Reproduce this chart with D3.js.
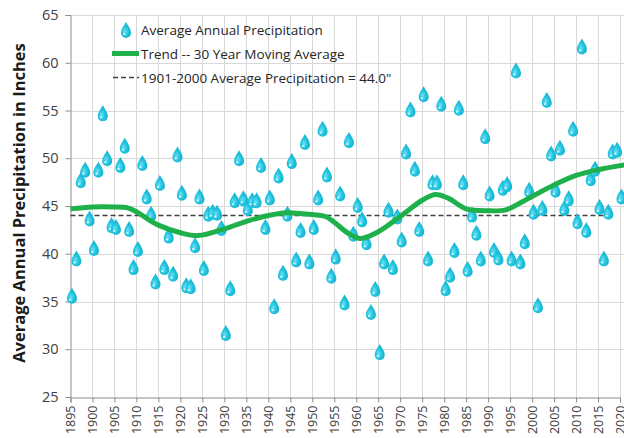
<!DOCTYPE html>
<html>
<head>
<meta charset="utf-8">
<script src="https://cdn.jsdelivr.net/npm/d3@7"></script>
<style>
  html, body { margin: 0; padding: 0; background: #fff; }
  svg { display: block; font-family: "Open Sans", sans-serif; }
</style>
</head>
<body>
<svg id="chart" width="624" height="438"></svg>
<script>
// annual precipitation, 1895 - 2020 (inches)
const firstYear = 1895;
const precip = [
  35.6, 39.5, 47.7, 48.8, 43.7, 40.6, 48.8, 54.7, 50.0, 43.0,
  42.8, 49.3, 51.3, 42.6, 38.6, 40.5, 49.5, 46.0, 44.2, 37.1,
  47.4, 38.6, 41.9, 37.9, 50.4, 46.4, 36.7, 36.6, 40.9, 46.0,
  38.5, 44.2, 44.4, 44.3, 42.7, 31.7, 36.4, 45.6, 50.0, 45.8,
  44.8, 45.6, 45.6, 49.3, 42.8, 45.9, 34.5, 48.2, 38.0, 44.2,
  49.7, 39.4, 42.5, 51.7, 39.2, 42.8, 45.9, 53.1, 48.3, 37.7,
  39.7, 46.3, 34.9, 51.9, 42.1, 45.1, 43.6, 41.2, 33.9, 36.3,
  29.7, 39.2, 44.6, 38.6, 43.9, 41.5, 50.7, 55.1, 48.9, 42.6,
  56.7, 39.5, 47.5, 47.5, 55.7, 36.4, 37.8, 40.4, 55.3, 47.5,
  38.4, 44.1, 42.2, 39.5, 52.3, 46.3, 40.4, 39.6, 46.9, 47.3,
  39.5, 59.2, 39.2, 41.3, 46.7, 44.4, 34.6, 44.8, 56.1, 50.5,
  46.7, 51.1, 44.8, 45.8, 53.1, 43.4, 61.7, 42.5, 47.9, 48.9,
  44.9, 39.5, 44.4, 50.7, 50.9, 46.0
];
const years = precip.map((v, i) => firstYear + i);

// 30 year moving average trend
const trendYears = [1895, 1900, 1905, 1908, 1910, 1913, 1915, 1920, 1924, 1930,
  1935, 1940, 1944, 1950, 1953, 1955, 1958, 1961, 1965, 1970, 1975, 1978, 1981,
  1985, 1990, 1994, 1998, 2000, 2005, 2010, 2015, 2021];
const trendValues = [44.7, 44.9, 44.9, 44.8, 44.4, 43.5, 43.0, 42.2, 41.9, 42.6,
  43.4, 44.0, 44.3, 44.1, 43.9, 43.3, 42.2, 41.6, 42.3, 43.9, 45.6, 46.2, 45.8,
  44.7, 44.5, 44.6, 45.5, 46.0, 47.2, 48.2, 48.8, 49.3];

// 1901-2000 average
const avgYears = [1895, 2017];
const avgValue = 44.0;

const yTicks = [25, 30, 35, 40, 45, 50, 55, 60, 65];
const xTicks = d3.range(1895, 2021, 5);

const legendLabels = [
  "Average Annual Precipitation",
  "Trend -- 30 Year Moving Average",
  "1901-2000 Average Precipitation = 44.0\""
];

const svg = d3.select("#chart");

const x = d3.scaleLinear().domain([1895, 2020]).range([70.5, 620]);
const y = d3.scaleLinear().domain([25, 65]).range([397, 15]);

const dropColor = "#1fc3de";
const greenColor = "#1eb04a";
const gridColor = "#d9d9d9";

// drop gradient
const defs = svg.append("defs");
const grad = defs.append("radialGradient")
  .attr("id", "dropGrad")
  .attr("cx", "40%").attr("cy", "60%").attr("r", "70%");
grad.append("stop").attr("offset", "0%").attr("stop-color", "#6fe0f2");
grad.append("stop").attr("offset", "45%").attr("stop-color", dropColor);
grad.append("stop").attr("offset", "100%").attr("stop-color", "#14a9c8");

const dropPath = "M0,-8 C1.2,-5.2 5,-1.5 5,3 A5,5 0 0 1 -5,3 C-5,-1.5 -1.2,-5.2 0,-8Z";

function drawDrop(g) {
  g.append("path").attr("d", dropPath).attr("fill", "url(#dropGrad)");
  g.append("ellipse")
    .attr("cx", -1.8).attr("cy", 4)
    .attr("rx", 1.3).attr("ry", 1.1)
    .attr("fill", "#e6fbff").attr("opacity", 0.85);
}

// gridlines
svg.append("g")
  .selectAll("line")
  .data(yTicks.slice(1))
  .join("line")
  .attr("x1", 70.5).attr("x2", 624)
  .attr("y1", d => Math.round(y(d)) + 0.5)
  .attr("y2", d => Math.round(y(d)) + 0.5)
  .attr("stroke", gridColor)
  .attr("stroke-width", 1);

svg.append("g")
  .selectAll("line")
  .data(xTicks.slice(1))
  .join("line")
  .attr("x1", d => Math.round(x(d)) + 0.5)
  .attr("x2", d => Math.round(x(d)) + 0.5)
  .attr("y1", y(65)).attr("y2", y(25))
  .attr("stroke", gridColor)
  .attr("stroke-width", 1);

// axes
const yAxis = d3.axisLeft(y).tickValues(yTicks).tickSize(5).tickPadding(7);
svg.append("g")
  .attr("class", "y-axis")
  .attr("transform", "translate(70.5,0)")
  .call(yAxis);

const xAxis = d3.axisBottom(x).tickValues(xTicks).tickSize(5).tickFormat(d3.format("d"));
svg.append("g")
  .attr("class", "x-axis")
  .attr("transform", `translate(0,${y(25) + 0.5})`)
  .call(xAxis);

svg.selectAll(".y-axis .domain, .x-axis .domain, .y-axis .tick line, .x-axis .tick line")
  .attr("stroke", "#8c8c8c");
svg.selectAll(".y-axis .tick text")
  .attr("fill", "#404040")
  .attr("font-size", 14.5)
  .attr("font-family", "Open Sans, sans-serif");
svg.selectAll(".x-axis .tick text")
  .attr("fill", "#404040")
  .attr("font-size", 12.5)
  .attr("font-family", "Open Sans, sans-serif")
  .attr("transform", "rotate(-90)")
  .attr("x", -8)
  .attr("y", 0)
  .attr("dy", "0.35em")
  .style("text-anchor", "end");

// y axis title
svg.append("text")
  .attr("transform", "translate(25,203) rotate(-90)")
  .attr("text-anchor", "middle")
  .attr("font-size", 16.5)
  .attr("font-weight", "bold")
  .attr("fill", "#1a1a1a")
  .text("Average Annual Precipitation in Inches");

// average dashed line
svg.append("line")
  .attr("x1", x(avgYears[0])).attr("x2", x(avgYears[1]))
  .attr("y1", y(avgValue)).attr("y2", y(avgValue))
  .attr("stroke", "#404040")
  .attr("stroke-width", 1.5)
  .attr("stroke-dasharray", "5,3");

// drops
svg.append("g")
  .selectAll("g")
  .data(precip)
  .join("g")
  .attr("transform", (d, i) => `translate(${x(years[i]) + 1.5},${y(d)})`)
  .each(function () { drawDrop(d3.select(this)); });

// trend line
const trendLine = d3.line()
  .x((d, i) => x(trendYears[i]))
  .y(d => y(d))
  .curve(d3.curveCatmullRom.alpha(0.5));

svg.append("path")
  .datum(trendValues)
  .attr("d", trendLine)
  .attr("fill", "none")
  .attr("stroke", greenColor)
  .attr("stroke-width", 5)
  .attr("stroke-linecap", "butt");

// legend
const legend = svg.append("g").attr("transform", "translate(0,0)");
legend.append("g")
  .attr("transform", "translate(126,30)")
  .each(function () { drawDrop(d3.select(this)); });
legend.append("line")
  .attr("x1", 112).attr("x2", 139)
  .attr("y1", 53.5).attr("y2", 53.5)
  .attr("stroke", greenColor).attr("stroke-width", 5);
legend.append("line")
  .attr("x1", 113).attr("x2", 139)
  .attr("y1", 77.5).attr("y2", 77.5)
  .attr("stroke", "#404040").attr("stroke-width", 1.5)
  .attr("stroke-dasharray", "5,3");
legend.selectAll("text")
  .data(legendLabels)
  .join("text")
  .attr("x", 141)
  .attr("y", (d, i) => 34.5 + i * 24)
  .attr("font-size", 13.5)
  .attr("fill", "#262626")
  .text(d => d);
</script>
</body>
</html>
